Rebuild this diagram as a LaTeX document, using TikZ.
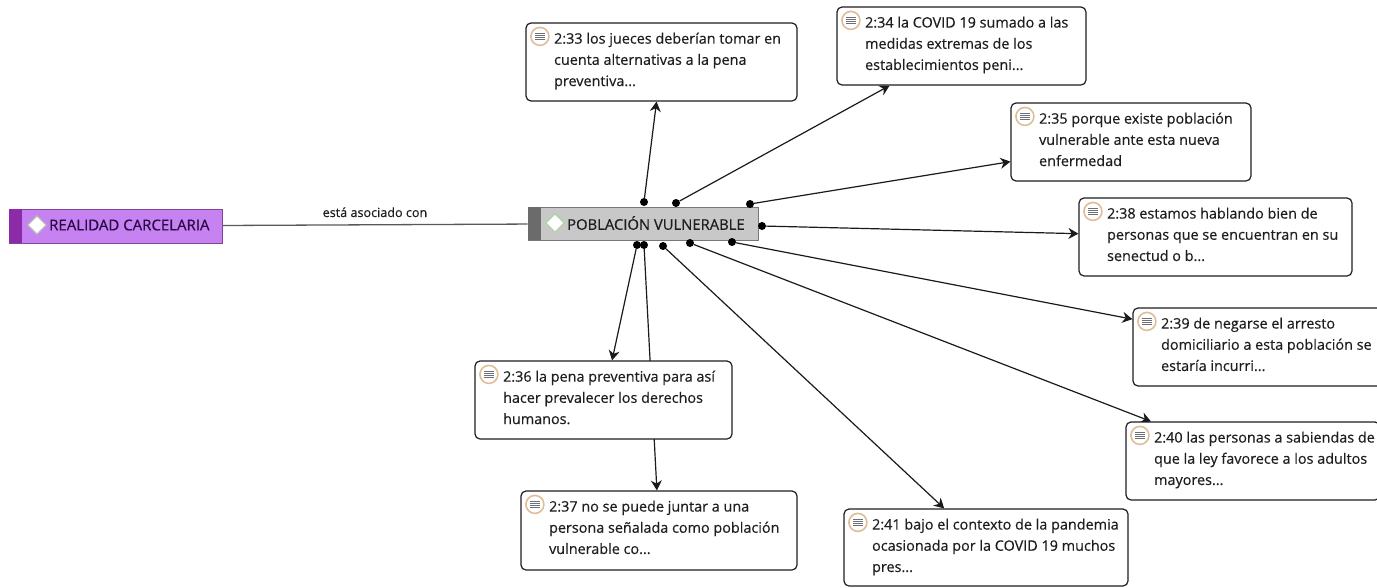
\documentclass[tikz,border=0pt]{standalone}
\usepackage{fontspec}
\setmainfont{Open Sans}
\newfontfamily\notefont[FakeBold=0.35]{Open Sans}
\newfontfamily\codefont[FakeBold=0.5]{Open Sans}
\usetikzlibrary{arrows.meta,backgrounds,calc,shapes.geometric}
\definecolor{ink}{HTML}{1E1E1E}
\definecolor{linkc}{HTML}{1A1A1A}
\definecolor{purplefill}{RGB}{198,130,240}
\definecolor{purpleband}{RGB}{140,43,168}
\definecolor{purpleline}{RGB}{130,70,150}
\definecolor{purpletext}{RGB}{40,10,70}
\definecolor{grayfill}{RGB}{200,200,200}
\definecolor{grayband}{RGB}{107,107,107}
\definecolor{grayline}{RGB}{120,120,120}
\definecolor{iconring}{RGB}{222,190,150}
\definecolor{iconline}{RGB}{110,110,120}
\definecolor{gemgreen}{RGB}{175,210,160}
\tikzset{
  notebox/.style={draw=ink,line width=1.2pt,rounded corners=5pt,fill=white,inner sep=0pt},
  notetext/.style={anchor=north west,align=left,inner sep=0pt,text=ink,font=\notefont\fontsize{14.4}{21.2}\selectfont},
  dotn/.style={circle,fill=black,inner sep=0pt,minimum size=8pt},
  link/.style={draw=linkc,line width=1.2pt,-{Stealth[length=10pt,width=11pt]}},
  plainlink/.style={draw=black!65,line width=1.3pt},
  code/.style={draw=#1,line width=.9pt,inner sep=0pt},
  gem/.style={diamond,inner sep=0pt,minimum size=19pt,fill=white,draw=#1,line width=1.2pt},
  codetext/.style={anchor=west,inner sep=0pt,font=\codefont\fontsize{15}{16}\selectfont},
  noteicon/.style={circle,draw=iconring,line width=1.6pt,fill=white,minimum size=18pt,inner sep=0pt},
}
\newcommand{\notebox}[6]{% name, left, top, right, bottom, text
  \node[notebox,minimum width=#4pt-#2pt,minimum height=#5pt-#3pt] (n#1) at ({(#2+#4)/2},{(#3+#5)/2}) {};
  \node[notetext] (t#1) at ($(n#1.north west)+(28.5,10)$) {#6};
  \node[noteicon] (i#1) at ($(n#1.north west)+(14.5,14)$) {};
  \draw[iconline,line width=.8pt] ($(i#1)+(-5,-3)$) -- ++(10,0) ($(i#1)+(-5,-1)$) -- ++(10,0) ($(i#1)+(-5,1)$) -- ++(10,0) ($(i#1)+(-5,3)$) -- ++(10,0);
}
\begin{document}
\begin{tikzpicture}[x=1pt,y=-1pt]
\clip (0,0) rectangle (1377,587);
% code nodes
\node[code=purpleline,fill=purplefill,minimum width=213pt,minimum height=34pt] (real) at (115.5,226) {};
\fill[purpleband] (real.north west) rectangle ($(real.south west)+(13,0)$);
\node[gem=gray!55] (realg) at (37,225) {};
\node[codetext,text=purpletext] (realt) at (49,225) {REALIDAD CARCELARIA};
\node[code=grayline,fill=grayfill,minimum width=230pt,minimum height=33pt] (pob) at (643,223.5) {};
\fill[grayband] (pob.north west) rectangle ($(pob.south west)+(13,0)$);
\node[gem=gemgreen] (pobg) at (555,223) {};
\node[codetext,text=ink,font=\codefont\fontsize{14.8}{16}\selectfont] (pobt) at (567,223) {POBLACIÓN VULNERABLE};
% note boxes
\notebox{33}{526}{23}{797}{101}{2:33 los jueces deberían tomar en\\cuenta alternativas a la pena\\preventiva...}
\notebox{34}{837}{7}{1086}{85}{2:34 la COVID 19 sumado a las\\medidas extremas de los\\establecimientos peni...}
\notebox{35}{1011}{103}{1251}{181}{2:35 porque existe población\\vulnerable ante esta nueva\\enfermedad}
\notebox{38}{1079}{198}{1352}{276}{2:38 estamos hablando bien de\\personas que se encuentran en su\\senectud o b...}
\notebox{39}{1133}{308}{1421}{386}{2:39 de negarse el arresto\\domiciliario a esta población se\\estaría incurri...}
\notebox{40}{1126}{422}{1380}{500}{2:40 las personas a sabiendas de\\que la ley favorece a los adultos\\mayores...}
\notebox{36}{475}{361}{732}{439}{2:36 la pena preventiva para así\\hacer prevalecer los derechos\\humanos.}
\notebox{37}{521}{491}{797}{570}{2:37 no se puede juntar a una\\persona señalada como población\\vulnerable co...}
\notebox{41}{844}{509}{1128}{586}{2:41 bajo el contexto de la pandemia\\ocasionada por la COVID 19 muchos\\pres...}
% start dots
\node[dotn] (d33) at (644,202) {};
\node[dotn] (d34) at (676,203) {};
\node[dotn] (d35) at (750,204) {};
\node[dotn] (d38) at (762,226) {};
\node[dotn] (d39) at (732,242) {};
\node[dotn] (d40) at (690,243) {};
\node[dotn] (d41) at (663,246) {};
\node[dotn] (d36) at (637,245) {};
\node[dotn] (d37) at (644,245) {};
\begin{scope}[on background layer]
\draw[plainlink] (real) -- node[above=7pt,inner sep=0pt,text=ink,font=\notefont\fontsize{12.6}{14}\selectfont] (assoc) {está asociado con} (pob);
\foreach \k in {33,34,35,38,39,40,41,36,37}{
  \draw[link] (d\k) -- (n\k);
}
\end{scope}
\end{tikzpicture}
\end{document}
